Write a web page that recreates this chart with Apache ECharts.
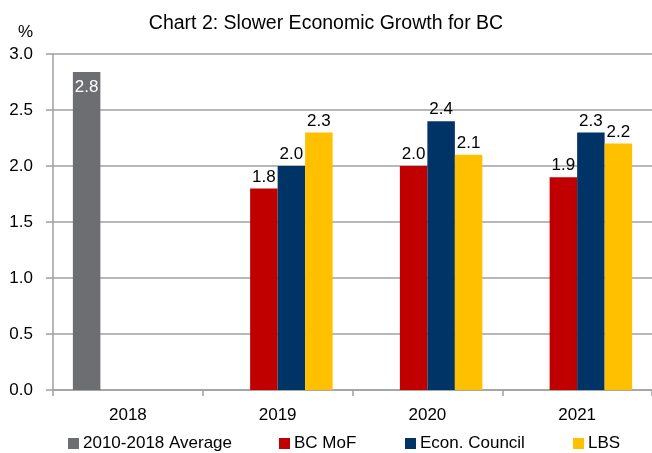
<!DOCTYPE html>
<html><head><meta charset="utf-8">
<script src="https://cdn.jsdelivr.net/npm/echarts@6/dist/echarts.min.js"></script>
<style>html,body{margin:0;padding:0;background:#fff}#c{width:652px;height:453px}</style>
</head><body><div id="c"></div>
<script>
const categories = ['2018', '2019', '2020', '2021'];
const avgValues = [2.84, null, null, null];
const mofValues = [null, 1.8, 2.0, 1.9];
const councilValues = [null, 2.0, 2.4, 2.3];
const lbsValues = [null, 2.3, 2.1, 2.2];
const seriesNames = ['2010-2018 Average', 'BC MoF', 'Econ. Council', 'LBS'];
const colors = ['#6d6e71', '#c00000', '#003366', '#ffc000'];
const F = 'Liberation Sans, Arial, sans-serif';

const chart = echarts.init(document.getElementById('c'), null, {renderer: 'canvas'});
const fmt = p => p.value == null ? '' : Number(p.value).toFixed(1);
const mk = (name, data, color, inside) => ({
  name, type: 'bar', data, barWidth: 27.5, barGap: '0%',
  itemStyle: {color}, animation: false,
  label: {show: true, position: inside ? 'insideTop' : 'top', distance: inside ? 7 : 3,
    color: inside ? '#fff' : '#000', fontFamily: F, fontSize: 17, formatter: fmt}
});
const legendPos = [63, 274, 400, 568];
chart.setOption({
  animation: false,
  title: {text: 'Chart 2: Slower Economic Growth for BC', left: 'center', top: 9,
    textStyle: {fontFamily: F, fontSize: 19.5, fontWeight: 'normal', color: '#000'}},
  grid: {left: 53, right: -1, top: 54, bottom: 63, containLabel: false},
  legend: seriesNames.map((n, i) => ({
    data: [n], left: legendPos[i], top: 430, itemWidth: 11, itemHeight: 11, itemGap: 5,
    icon: 'rect', textStyle: {fontFamily: F, fontSize: 17, color: '#000', padding: [0,0,0,-1]}
  })),
  xAxis: {type: 'category', data: categories,
    axisLine: {lineStyle: {color: '#a0a0a0', width: 1.5}},
    axisTick: {show: true, length: 6, lineStyle: {color: '#a0a0a0', width: 1.5}},
    axisLabel: {fontFamily: F, fontSize: 17, color: '#000', margin: 17}},
  yAxis: {type: 'value', min: 0, max: 3, interval: 0.5,
    name: '%', nameLocation: 'end', nameGap: 13,
    nameTextStyle: {fontFamily: F, fontSize: 17, color: '#000', align: 'right', padding: [0, 20, 0, 0]},
    axisLine: {show: true, lineStyle: {color: '#a0a0a0', width: 1.5}},
    axisTick: {show: true, length: 7, lineStyle: {color: '#a0a0a0', width: 1.5}},
    splitLine: {lineStyle: {color: '#a0a0a0', width: 1.5}},
    axisLabel: {fontFamily: F, fontSize: 17, color: '#000', margin: 20, formatter: v => v.toFixed(1)}},
  series: [
    mk(seriesNames[0], avgValues, colors[0], true),
    mk(seriesNames[1], mofValues, colors[1], false),
    mk(seriesNames[2], councilValues, colors[2], false),
    mk(seriesNames[3], lbsValues, colors[3], false)
  ]
});
</script></body></html>
